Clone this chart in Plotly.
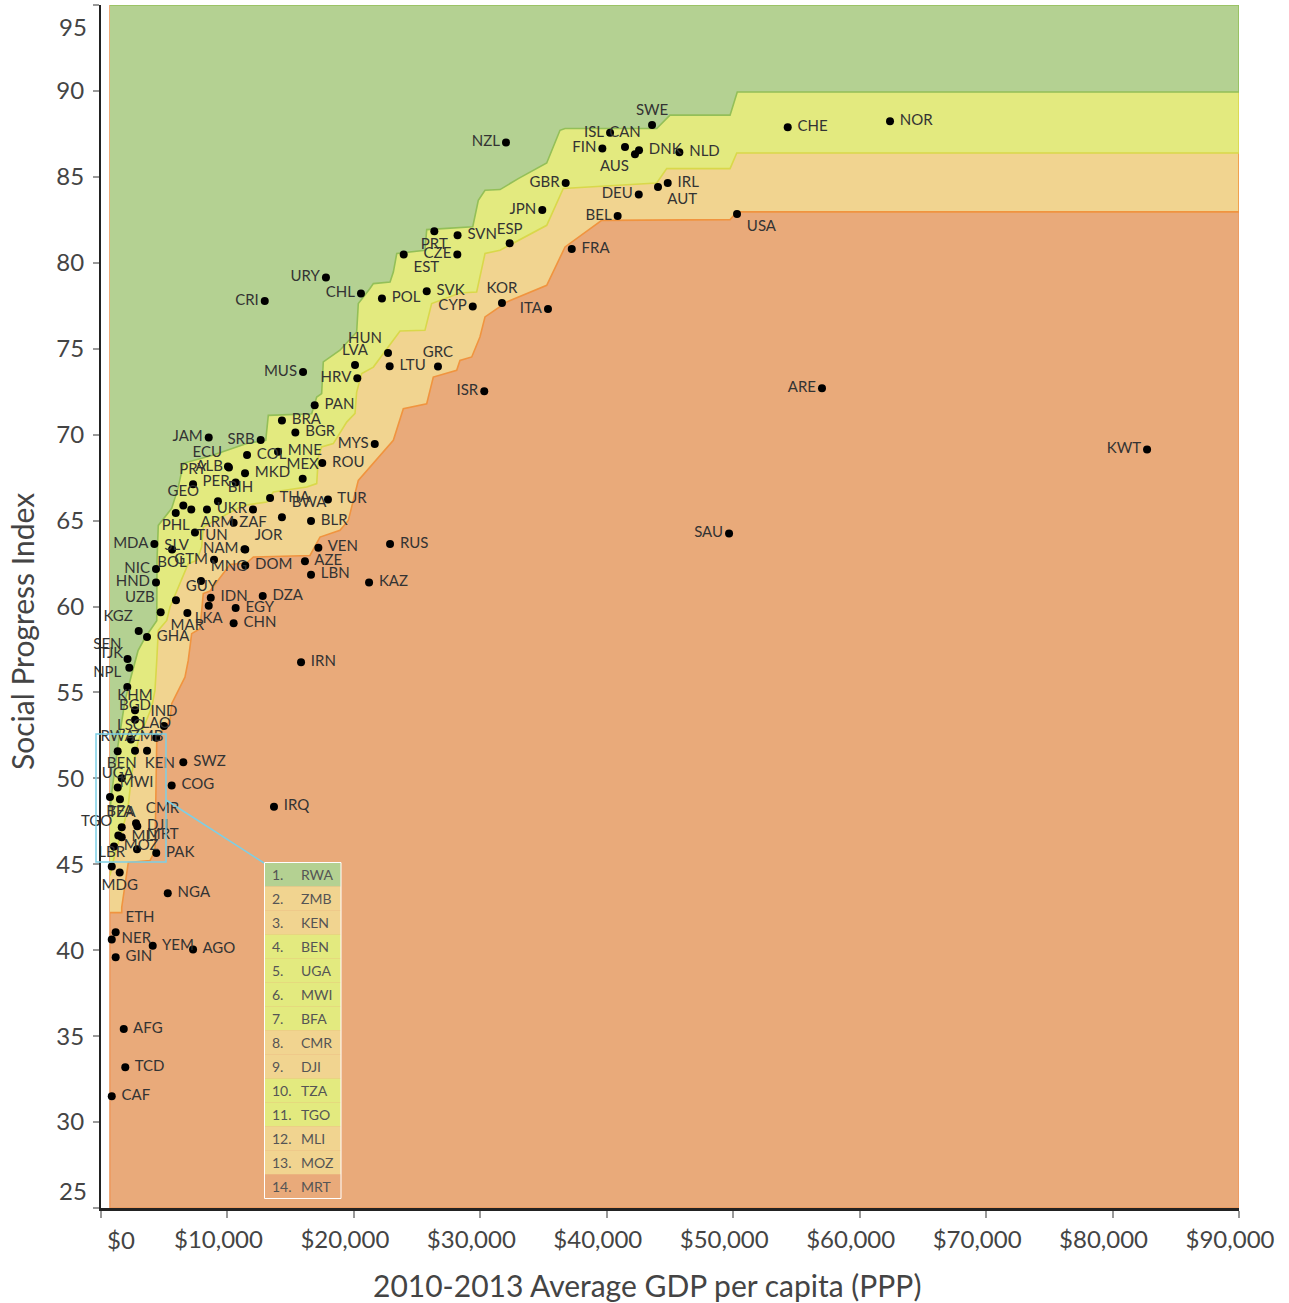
import plotly.graph_objects as go

# ---------------- data ----------------
countries = ["NOR","CHE","SWE","ISL","CAN","FIN","DNK","AUS","NLD","NZL","GBR","IRL","AUT","DEU","JPN","BEL","USA",
             "SVN","ESP","PRT","CZE","EST","FRA","URY","CHL","SVK","POL","CRI","CYP","KOR","ITA","HUN","LVA","LTU",
             "GRC","MUS","HRV","ISR","ARE","PAN","BRA","BGR","JAM","SRB","MYS","KWT","MNE","COL","ECU","ALB","MKD",
             "ROU","MEX","PRY","PER","BIH","THA","TUR","GEO","ARM","UKR","PHL","ZAF","BWA","BLR","TUN","SLV","MDA",
             "JOR","NAM","VEN","RUS","BOL","GTM","AZE","NIC","DOM","MNG","HND","LBN","KAZ","GUY","UZB","IDN","DZA",
             "EGY","LKA","MAR","CHN","KGZ","GHA","IRN","SEN","TJK","NPL","KHM","BGD","IND","LSO","LAO","RWA","ZMB",
             "KEN","SWZ","BEN","COG","UGA","MWI","BFA","IRQ","CMR","DJI","TZA","TGO","MLI","MOZ","MRT","PAK","LBR",
             "MDG","NGA","ETH","NER","YEM","AGO","GIN","AFG","TCD","CAF","SAU"]
gdp = [62400,54310,43580,40260,41440,39650,42550,42230,45740,32030,36750,44820,44050,42530,34900,40860,50300,
       28200,32320,26360,28180,23940,37230,17790,20560,25760,22220,12950,29400,31710,35350,22700,20090,22830,
       26650,15980,20270,30310,57020,16900,14310,15370,8520,12630,21650,82730,14000,11550,10040,10120,11390,
       17500,15950,7280,10650,9250,13370,17950,6510,7140,8380,5910,12020,14310,16610,10490,7430,4220,
       11410,11350,17190,22860,5620,8940,16130,4350,11410,7910,4350,16610,21200,5930,4720,8680,12790,
       10650,8520,6830,10490,2980,3640,15820,2100,2240,2080,2690,2690,4980,2370,4370,1320,3640,
       2690,6510,1640,5590,1320,710,1500,13680,2770,2870,1640,1370,1640,1030,2850,4370,850,
       1480,5280,1160,850,4090,7280,1160,1800,1920,850,49670]
spi = [88.24,87.89,88.02,87.56,86.74,86.65,86.55,86.32,86.43,87.00,84.64,84.64,84.41,83.97,83.07,82.72,82.84,
       81.60,81.13,81.83,80.48,80.48,80.80,79.14,78.22,78.34,77.92,77.78,77.45,77.66,77.31,74.75,74.05,73.98,
       73.96,73.64,73.28,72.52,72.70,71.71,70.83,70.13,69.83,69.69,69.45,69.14,69.01,68.81,68.15,68.09,67.76,
       68.35,67.44,67.12,67.22,66.12,66.31,66.22,65.87,65.65,65.65,65.44,65.65,65.20,64.97,64.88,64.30,63.63,
       63.31,63.33,63.42,63.63,63.31,62.72,62.63,62.18,62.39,61.48,61.39,61.85,61.39,60.36,59.67,60.51,60.61,
       59.91,60.05,59.62,59.03,58.57,58.22,56.76,56.95,56.44,55.31,53.97,53.41,53.04,52.26,52.36,51.58,51.61,
       51.61,50.94,50.01,49.59,49.47,48.91,48.79,48.35,47.39,47.22,47.16,46.68,46.58,46.04,45.88,45.65,44.87,
       44.52,43.32,41.05,40.62,40.26,40.04,39.59,35.42,33.19,31.50,64.25]
label_side = ["R","R","TC","L","TC","L","R","BL","R","L","L","R","BR","L","L","L","BR",
              "R","TC","BC","L","BR","R","L","L","R","R","L","L","TC","L","TL","TC","R",
              "TC","L","L","L","L","R","R","R","L","L","L","L","R","R","TL","L","R",
              "R","TC","TC","L","TR","R","R","TC","BR","R","BC","BC","TR","R","BL","BL","L",
              "TR","L","R","R","BC","L","R","L","R","TR","L","R","R","TR","TL","R","R",
              "R","BC","BC","R","TL","R","R","TL","TL","TL","TC","TC","TC","TC","TC","TC","TC",
              "BR","R","TC","R","TC","TR","BC","R","TR","R","TC","TL","R","R","TR","R","TC",
              "BC","R","TR","R","R","R","R","R","R","R","L"]

# band boundaries (GDP $, SPI)
b_green_x = [710,870,1340,1900,2290,2930,3480,4410,4430,4530,5590,6110,6510,8760,11520,13030,13230,16660,17060,
             17450,17580,18900,20220,20350,21270,21540,22860,23120,23390,25620,25760,29400,29840,30370,31560,
             33000,35250,36300,36700,43950,45000,49750,50320,90000]
b_green_y = [48.12,49.28,51.90,54.52,55.68,57.43,58.18,59.17,62.67,64.72,65.71,66.93,68.33,68.79,69.49,69.67,71.12,
             71.22,72.19,72.39,74.23,74.91,75.97,77.63,78.50,78.79,78.88,79.46,80.54,80.73,81.93,82.10,83.64,84.22,
             84.26,84.90,85.81,87.71,87.81,87.81,88.59,88.59,89.94,89.94]
b_yellow_x = [710,1110,1740,2140,2430,2950,4010,4270,4410,4530,5200,5460,6900,7570,7960,8090,9020,11250,13110,
              13630,16270,17060,17190,17450,18370,19430,20090,20220,20620,21540,23650,25620,26150,28390,29710,
              30370,31560,35250,36560,43950,44740,49750,50280,90000]
b_yellow_y = [44.35,45.63,47.14,48.31,50.28,52.21,54.13,55.12,56.86,58.61,59.19,59.97,62.49,62.68,63.46,64.62,65.01,
              65.88,66.08,66.66,66.95,67.15,68.70,69.28,69.48,70.73,71.24,72.48,73.55,73.93,76.03,76.07,77.63,78.24,
              78.30,80.54,80.73,82.18,84.32,84.64,85.48,85.48,86.39,86.39]
b_orange_x = [710,1640,1640,2030,2160,3880,4270,4410,4670,5460,5590,5850,6640,6900,7170,7830,8090,8620,9410,
              10200,11520,12050,16530,17320,18900,19560,20350,22300,23120,23910,25760,26280,28130,28390,29320,
              29970,30370,32090,35250,36700,39600,49750,50280,90000]
b_orange_y = [42.19,42.19,42.50,44.47,45.11,45.22,45.80,52.21,52.60,53.37,54.34,54.73,55.89,56.86,58.42,58.71,60.75,
              60.90,61.71,62.45,62.53,62.88,62.97,64.04,64.43,65.01,67.34,68.97,69.67,71.51,71.80,73.35,73.74,74.32,
              74.52,75.68,76.85,77.72,78.69,80.92,82.47,82.51,82.96,82.96]

legend_codes = ["RWA","ZMB","KEN","BEN","UGA","MWI","BFA","CMR","DJI","TZA","TGO","MLI","MOZ","MRT"]
legend_bands = ["green","lorange","lorange","yellow","yellow","yellow","yellow","lorange","lorange",
                "yellow","yellow","lorange","lorange","orange"]

x_ticks = [0,10000,20000,30000,40000,50000,60000,70000,80000,90000]
x_ticktext = ["", "$10,000","$20,000","$30,000","$40,000","$50,000","$60,000","$70,000","$80,000","$90,000"]
y_ticks = [25,30,35,40,45,50,55,60,65,70,75,80,85,90,95]

# ---------------- style ----------------
FONT = "Lato"
FILL = {"green": "#b4d192", "yellow": "#e3ea7f", "lorange": "#f1d490", "orange": "#e9aa7a"}
EDGE = {"green": "#93bf58", "yellow": "#d9d84a", "lorange": "#f0943f", "orange": "#ee9a5e"}
POS = {"R": "middle right", "L": "middle left", "TC": "top center", "BC": "bottom center",
       "TL": "top left", "TR": "top right", "BL": "bottom left", "BR": "bottom right"}
X0, X1, Y0, Y1 = 710, 90000, 25, 95

W, H = 1289, 1303
ML, MR, MT, MB = 101, 50, 5, 95
PW, PH = W - ML - MR, H - MT - MB


def px2paper(px, py):
    return (px - ML) / PW, (H - MB - py) / PH


def padded(code, side):
    if side.endswith("R"):
        return " " + code
    return code


fig = go.Figure()


def band(xs, ys, fill, edge):
    fig.add_trace(go.Scatter(x=xs, y=ys, mode="lines", fill="toself", fillcolor=fill,
                             line=dict(color=edge, width=1.6), hoverinfo="skip", showlegend=False))


band([X0, X1, X1, X0, X0], [Y0, Y0, Y1, Y1, Y0], FILL["orange"], EDGE["orange"])
band(b_orange_x + [X1, X0], b_orange_y + [Y1, Y1], FILL["lorange"], EDGE["lorange"])
band(b_yellow_x + [X1, X0], b_yellow_y + [Y1, Y1], FILL["yellow"], EDGE["yellow"])
band(b_green_x + [X1, X0], b_green_y + [Y1, Y1], FILL["green"], EDGE["green"])

fig.add_trace(go.Scatter(
    x=gdp, y=spi, mode="markers+text",
    text=[padded(c, s) for c, s in zip(countries, label_side)],
    textposition=[POS[s] for s in label_side],
    marker=dict(color="black", size=8),
    textfont=dict(family=FONT, size=15, color="#333333"),
    cliponaxis=False, showlegend=False, hovertext=countries, hoverinfo="text"))

shapes = []
annotations = []

# legend box for the zoomed region
lx0, ytop = px2paper(264.5, 862.5)
lx1, _ = px2paper(341, 862.5)
rh = 24 / PH
for i, (code, b) in enumerate(zip(legend_codes, legend_bands)):
    yt = ytop - i * rh
    shapes.append(dict(type="rect", xref="paper", yref="paper", x0=lx0, x1=lx1, y0=yt - rh, y1=yt,
                       fillcolor=FILL[b], line=dict(width=0), layer="above"))
    annotations.append(dict(xref="paper", yref="paper", x=px2paper(270, 0)[0], y=yt - rh / 2,
                            text=f"{i+1}.", showarrow=False, xanchor="left", yanchor="middle",
                            font=dict(family=FONT, size=14, color="#555555")))
    annotations.append(dict(xref="paper", yref="paper", x=px2paper(299, 0)[0], y=yt - rh / 2,
                            text=code, showarrow=False, xanchor="left", yanchor="middle",
                            font=dict(family=FONT, size=14, color="#555555")))
shapes.append(dict(type="rect", xref="paper", yref="paper", x0=lx0, x1=lx1,
                   y0=ytop - len(legend_codes) * rh, y1=ytop, line=dict(color="white", width=1),
                   fillcolor="rgba(0,0,0,0)", layer="above"))
# blue selection box + connector
bx0, by0 = px2paper(96, 862)
bx1, by1 = px2paper(166, 734)
shapes.append(dict(type="rect", xref="paper", yref="paper", x0=bx0, x1=bx1, y0=by0, y1=by1,
                   line=dict(color="#7ccfe6", width=1.5), fillcolor="rgba(0,0,0,0)", layer="above"))
cx0, cy0 = px2paper(166, 800)
cx1, cy1 = px2paper(264, 863)
shapes.append(dict(type="line", xref="paper", yref="paper", x0=cx0, y0=cy0, x1=cx1, y1=cy1,
                   line=dict(color="#7ccfe6", width=1.5), layer="above"))

# special tick labels and titles
tick_font = dict(family=FONT, size=24, color="#444444")
ax, ay = px2paper(121, 1239)
annotations.append(dict(xref="paper", yref="paper", x=ax, y=ay, text="$0", showarrow=False,
                        xanchor="center", yanchor="middle", font=tick_font))
for lab, py in (("95", 26), ("25", 1190)):
    qx, qy = px2paper(89, py)
    annotations.append(dict(xref="paper", yref="paper", x=qx, y=qy, text=lab, showarrow=False,
                            xanchor="right", yanchor="middle", font=tick_font))
tx, ty = px2paper(647, 1285)
annotations.append(dict(xref="paper", yref="paper", x=tx, y=ty, text="2010-2013 Average GDP per capita (PPP)",
                        showarrow=False, xanchor="center", yanchor="middle",
                        font=dict(family=FONT, size=30, color="#444444")))
tx, ty = px2paper(22, 632)
annotations.append(dict(xref="paper", yref="paper", x=tx, y=ty, text="Social Progress Index", textangle=-90,
                        showarrow=False, xanchor="center", yanchor="middle",
                        font=dict(family=FONT, size=30, color="#444444")))

fig.update_layout(
    width=W, height=H, margin=dict(l=ML, r=MR, t=MT, b=MB, pad=0),
    plot_bgcolor="white", paper_bgcolor="white",
    xaxis=dict(range=[0, 90000], tickvals=x_ticks, ticktext=x_ticktext, ticks="outside", ticklen=7,
               tickcolor="#999999", tickwidth=1.5, showline=True, linecolor="#222222", linewidth=3,
               showgrid=False, zeroline=False, tickfont=tick_font, ticklabelshift=-9, ticklabelstandoff=1),
    yaxis=dict(range=[25, 95], tickvals=y_ticks,
               ticktext=["" if v in (25, 95) else str(v) for v in y_ticks],
               ticks="outside", ticklen=6, tickcolor="#999999", tickwidth=1.5, showline=True,
               linecolor="#222222", linewidth=2, showgrid=False, zeroline=False, tickfont=tick_font,
               ticklabelstandoff=4),
    shapes=shapes, annotations=annotations, showlegend=False,
)

fig.write_html("out.html", config={"displayModeBar": False},
               post_script="document.body.style.margin='0';")
